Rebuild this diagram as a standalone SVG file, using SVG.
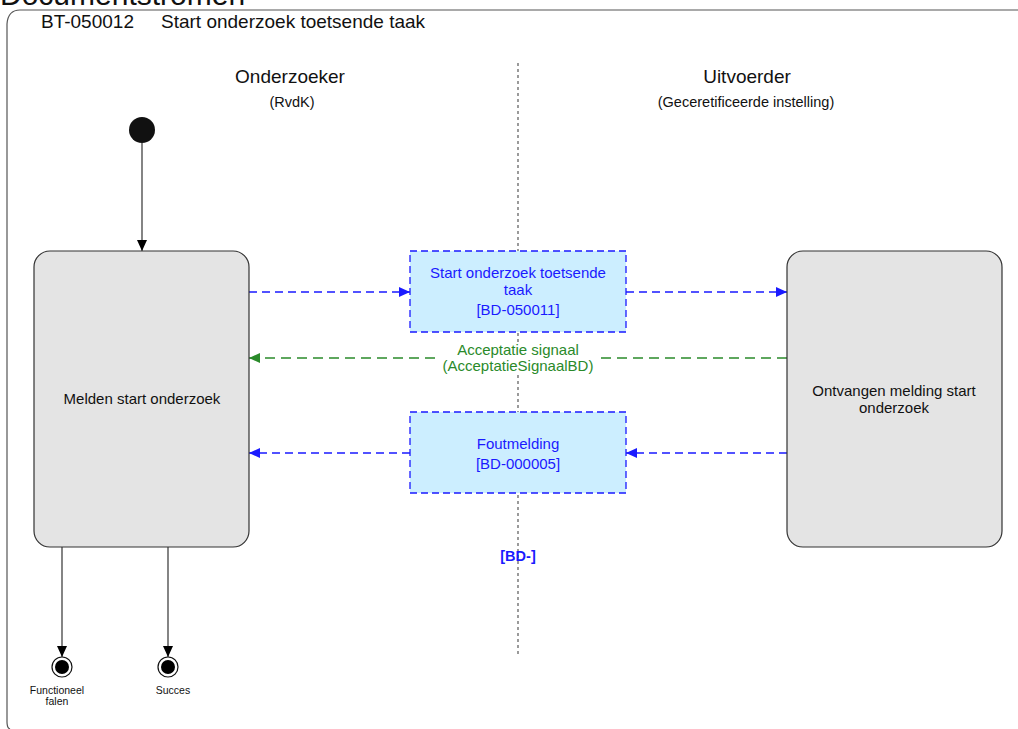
<svg xmlns="http://www.w3.org/2000/svg" width="1018" height="729" viewBox="0 0 1018 729">
<style>
text{font-family:"Liberation Sans",Arial,sans-serif;}
.state{fill:#e4e4e4;stroke:#333;stroke-width:1.2;}
.msg{fill:#cceeff;stroke:#1a1aff;stroke-width:1.3;stroke-dasharray:7 4;}
.blue{stroke:#1a1aff;stroke-width:1.3;stroke-dasharray:8 5;fill:none;}
.green{stroke:#2a8a2a;stroke-width:1.3;stroke-dasharray:10 6;fill:none;}
.flow{stroke:#333;stroke-width:1.2;fill:none;}
.t13{font-size:15px;fill:#111;text-anchor:middle;}
.tb{font-size:15px;fill:#1a1aff;text-anchor:middle;}
.lane{font-size:19px;fill:#111;text-anchor:middle;}
.sub{font-size:14.5px;fill:#111;text-anchor:middle;}
.end{font-size:10.5px;fill:#111;text-anchor:middle;}
</style>
<defs>
<marker id="ab" markerWidth="12" markerHeight="12" refX="11" refY="6" orient="auto" markerUnits="userSpaceOnUse"><path d="M0,1 L11,6 L0,11 Z" fill="#000"/></marker>
<marker id="abl" markerWidth="12" markerHeight="12" refX="11" refY="6" orient="auto" markerUnits="userSpaceOnUse"><path d="M0,1 L11,6 L0,11 Z" fill="#1a1aff"/></marker>
<marker id="agr" markerWidth="12" markerHeight="12" refX="11" refY="6" orient="auto" markerUnits="userSpaceOnUse"><path d="M0,1 L11,6 L0,11 Z" fill="#2a8a2a"/></marker>
</defs>
<rect width="1018" height="729" fill="#fff"/>
<text x="0" y="5" style="font-size:30px;fill:#111;">Documentstromen</text>
<path d="M1020,10 H20 Q8,10 7,24 V722 Q7,728 10,729" fill="none" stroke="#555" stroke-width="1.2"/>
<text x="41" y="28" style="font-size:19px;fill:#111;">BT-050012</text>
<text x="161" y="28" style="font-size:19px;fill:#111;">Start onderzoek toetsende taak</text>

<line x1="518" y1="63" x2="518" y2="655" stroke="#666" stroke-width="1.3" stroke-dasharray="3 3"/>
<text x="290" y="83" class="lane">Onderzoeker</text>
<text x="292" y="107" class="sub">(RvdK)</text>
<text x="747" y="83" class="lane">Uitvoerder</text>
<text x="746" y="107" class="sub">(Geceretificeerde instelling)</text>

<g id="connectors">
<line class="flow" x1="142" y1="143" x2="142" y2="251" marker-end="url(#ab)"/>
<line class="flow" x1="62" y1="547" x2="62" y2="657" marker-end="url(#ab)"/>
<line class="flow" x1="168" y1="547" x2="168" y2="657" marker-end="url(#ab)"/>
<line class="blue" x1="249" y1="292" x2="410" y2="292" marker-end="url(#abl)"/>
<line class="blue" x1="626" y1="292" x2="787" y2="292" marker-end="url(#abl)"/>
<line class="green" x1="787" y1="358" x2="249" y2="358" marker-end="url(#agr)"/>
<line class="blue" x1="787" y1="453" x2="626" y2="453" marker-end="url(#abl)"/>
<line class="blue" x1="410" y1="453" x2="249" y2="453" marker-end="url(#abl)"/>
<rect x="440" y="343" width="156" height="31" fill="#fff"/>
<text x="518" y="355" class="t13" style="fill:#2a8a2a">Acceptatie signaal</text>
<text x="518" y="371" class="t13" style="fill:#2a8a2a">(AcceptatieSignaalBD)</text>
</g>

<g id="start"><circle cx="142" cy="130" r="13" fill="#111"/></g>
<g id="melden">
<rect class="state" x="34" y="251" width="215" height="296" rx="16"/>
<text x="142" y="404" class="t13">Melden start onderzoek</text>
</g>
<g id="ontvangen">
<rect class="state" x="787" y="251" width="215" height="296" rx="16"/>
<text x="894" y="396" class="t13">Ontvangen melding start</text>
<text x="894" y="413" class="t13">onderzoek</text>
</g>
<g id="msg1">
<rect class="msg" x="410" y="251" width="216" height="81"/>
<text x="518" y="278" class="tb">Start onderzoek toetsende</text>
<text x="518" y="295" class="tb">taak</text>
<text x="518" y="315" class="tb">[BD-050011]</text>
</g>
<g id="msg2">
<rect class="msg" x="410" y="412" width="216" height="81"/>
<text x="518" y="449" class="tb">Foutmelding</text>
<text x="518" y="469" class="tb">[BD-000005]</text>
</g>
<g id="bd">
<text x="518" y="561" class="tb" style="font-weight:bold;font-size:14.5px">[BD-]</text>
</g>
<g id="end-falen">
<circle cx="62" cy="667" r="10" fill="#fff" stroke="#111" stroke-width="1.2"/>
<circle cx="62" cy="667" r="7" fill="#000"/>
<text x="57" y="694" class="end">Functioneel</text>
<text x="57" y="705" class="end">falen</text>
</g>
<g id="end-succes">
<circle cx="168" cy="667" r="10" fill="#fff" stroke="#111" stroke-width="1.2"/>
<circle cx="168" cy="667" r="7" fill="#000"/>
<text x="173" y="694" class="end">Succes</text>
</g>
</svg>
